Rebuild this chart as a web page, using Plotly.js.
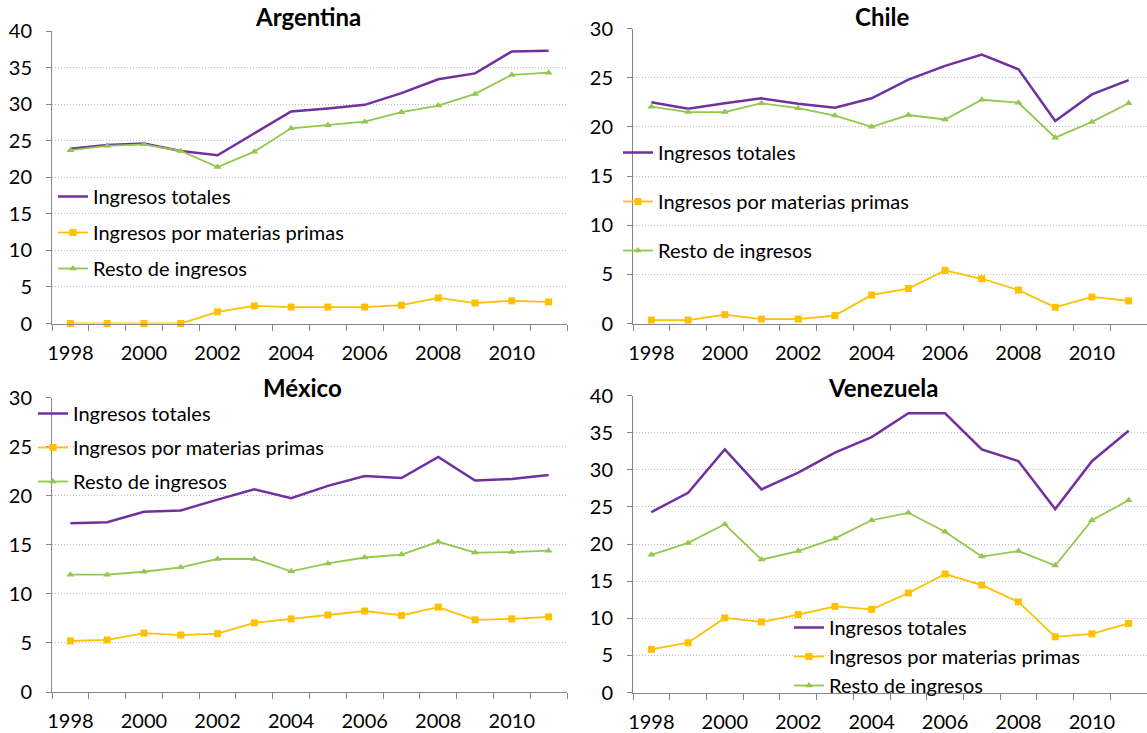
<!DOCTYPE html>
<html>
<head>
<meta charset="utf-8">
<script src="https://cdn.plot.ly/plotly-3.0.1.min.js"></script>
<style>
  html, body { margin: 0; padding: 0; background: #fff; }
  #chart { width: 1147px; height: 733px; }
</style>
</head>
<body>
<div id="chart"></div>
<script>
// Años de la serie
var years = [1998, 1999, 2000, 2001, 2002, 2003, 2004, 2005, 2006, 2007, 2008, 2009, 2010, 2011];
var yearTicks = [1998, 2000, 2002, 2004, 2006, 2008, 2010];
var seriesNames = ['Ingresos totales', 'Ingresos por materias primas', 'Resto de ingresos'];

// Argentina
var argTotales = [23.9, 24.4, 24.6, 23.6, 23.0, 26.0, 29.0, 29.4, 29.9, 31.5, 33.4, 34.2, 37.2, 37.3];
var argMaterias = [0, 0, 0, 0, 1.6, 2.4, 2.25, 2.25, 2.25, 2.5, 3.5, 2.8, 3.1, 2.95];
var argResto = [23.7, 24.3, 24.5, 23.6, 21.4, 23.5, 26.7, 27.1, 27.6, 28.9, 29.8, 31.4, 34.0, 34.3];

// Chile
var chiTotales = [22.5, 21.85, 22.4, 22.9, 22.35, 21.95, 22.9, 24.8, 26.2, 27.35, 25.85, 20.6, 23.3, 24.75];
var chiMaterias = [0.35, 0.35, 0.9, 0.45, 0.45, 0.8, 2.9, 3.55, 5.4, 4.55, 3.4, 1.65, 2.7, 2.3];
var chiResto = [22.05, 21.5, 21.5, 22.4, 21.9, 21.15, 20.0, 21.2, 20.75, 22.75, 22.45, 18.9, 20.5, 22.4];

// México
var mexTotales = [17.2, 17.3, 18.35, 18.5, 19.6, 20.65, 19.75, 21.0, 22.0, 21.8, 23.95, 21.55, 21.7, 22.1];
var mexMaterias = [5.2, 5.3, 6.0, 5.8, 5.95, 7.05, 7.45, 7.85, 8.25, 7.8, 8.65, 7.35, 7.45, 7.65];
var mexResto = [11.95, 11.95, 12.25, 12.7, 13.55, 13.55, 12.3, 13.1, 13.7, 14.0, 15.3, 14.2, 14.25, 14.4];

// Venezuela
var venTotales = [24.3, 26.9, 32.75, 27.35, 29.6, 32.3, 34.4, 37.6, 37.6, 32.75, 31.15, 24.7, 31.15, 35.25];
var venMaterias = [5.8, 6.7, 10.05, 9.5, 10.5, 11.6, 11.2, 13.4, 15.95, 14.45, 12.2, 7.5, 7.9, 9.3];
var venResto = [18.55, 20.15, 22.65, 17.9, 19.05, 20.75, 23.2, 24.2, 21.65, 18.3, 19.05, 17.1, 23.2, 25.9];

var FONT = 'Lato, "Liberation Sans", sans-serif';
var C_TOT = '#7030A0', C_MAT = '#FFC000', C_RES = '#92C84E';
var AXIS_GRAY = '#868686';

function panelTraces(idx, tot, mat, res) {
  var sfx = idx === 1 ? '' : String(idx);
  var xa = 'x' + sfx, ya = 'y' + sfx, lg = 'legend' + sfx;
  return [
    { x: years, y: tot, type: 'scatter', mode: 'lines', name: seriesNames[0],
      xaxis: xa, yaxis: ya, legend: lg, legendgroup: 'g' + idx + 'a', cliponaxis: false,
      line: { color: C_TOT, width: 2.5 } },
    { x: years, y: mat, type: 'scatter', mode: 'lines+markers', name: seriesNames[1],
      xaxis: xa, yaxis: ya, legend: lg, legendgroup: 'g' + idx + 'b', cliponaxis: false,
      line: { color: C_MAT, width: 1.8 }, marker: { symbol: 'square', size: 7, color: C_MAT } },
    { x: years, y: res, type: 'scatter', mode: 'lines+markers', name: seriesNames[2],
      xaxis: xa, yaxis: ya, legend: lg, legendgroup: 'g' + idx + 'c', cliponaxis: false,
      line: { color: C_RES, width: 1.8 }, marker: { symbol: 'triangle-up', size: 7, color: C_RES } }
  ];
}

var data = [].concat(
  panelTraces(1, argTotales, argMaterias, argResto),
  panelTraces(2, chiTotales, chiMaterias, chiResto),
  panelTraces(3, mexTotales, mexMaterias, mexResto),
  panelTraces(4, venTotales, venMaterias, venResto)
);

function xAxis(domain, anchor) {
  return {
    domain: domain, anchor: anchor, range: [1997.5, 2011.5],
    tickmode: 'array', tickvals: yearTicks, ticktext: yearTicks.map(String),
    ticks: '', showgrid: false, zeroline: false,
    showline: true, linecolor: AXIS_GRAY, linewidth: 1,
    ticklabelstandoff: 11,
    tickfont: { family: FONT, size: 20, color: '#000' },
    minor: { tickmode: 'linear', tick0: 1997.5, dtick: 1, ticks: 'outside',
             ticklen: 6, tickcolor: AXIS_GRAY, tickwidth: 1, showgrid: false }
  };
}

function yAxis(domain, anchor, maxV) {
  return {
    domain: domain, anchor: anchor, range: [0, maxV], dtick: 5,
    ticks: 'outside', ticklen: 5, tickcolor: AXIS_GRAY,
    showgrid: true, gridcolor: '#bdbdbd', griddash: '1px,2px', gridwidth: 1,
    zeroline: false, showline: true, linecolor: AXIS_GRAY, linewidth: 1,
    ticklabelstandoff: 10,
    tickfont: { family: FONT, size: 20, color: '#000' }
  };
}

function legendBox(x, y, gap) {
  return {
    x: x, y: y, xanchor: 'left', yanchor: 'top',
    bgcolor: 'rgba(0,0,0,0)', borderwidth: 0,
    traceorder: 'grouped', tracegroupgap: gap, itemwidth: 30,
    font: { family: FONT, size: 20, color: '#000' }
  };
}

function title(text, x, y) {
  return { text: '<b>' + text + '</b>', xref: 'paper', yref: 'paper',
           x: x, y: y, xanchor: 'center', yanchor: 'middle', showarrow: false,
           font: { family: FONT, size: 24, color: '#000' } };
}

var W = 1147, H = 733;
function px(v) { return v / W; }
function py(v) { return 1 - v / H; }

var layout = {
  width: W, height: H,
  margin: { l: 0, r: 0, t: 0, b: 0 },
  paper_bgcolor: '#fff', plot_bgcolor: '#fff',
  font: { family: FONT, color: '#000' },
  showlegend: true,
  xaxis:  xAxis([px(52), px(567)], 'y'),
  yaxis:  yAxis([py(323.5), py(31)], 'x', 40),
  xaxis2: xAxis([px(633), 1], 'y2'),
  yaxis2: yAxis([py(323.5), py(28.5)], 'x2', 30),
  xaxis3: xAxis([px(52), px(567)], 'y3'),
  yaxis3: yAxis([py(692), py(397.5)], 'x3', 30),
  xaxis4: xAxis([px(633), 1], 'y4'),
  yaxis4: yAxis([py(692.5), py(395.5)], 'x4', 40),
  legend:  legendBox(px(53), py(177), 7),
  legend2: legendBox(px(618), py(133), 20),
  legend3: legendBox(px(33), py(394), 5),
  legend4: legendBox(px(789), py(608), 0),
  annotations: [
    title('Argentina', px(308), py(17)),
    title('Chile', px(882), py(17)),
    title('México', px(302), py(387)),
    title('Venezuela', px(883), py(387))
  ]
};

Plotly.newPlot('chart', data, layout, { displayModeBar: false, staticPlot: true });
</script>
</body>
</html>
